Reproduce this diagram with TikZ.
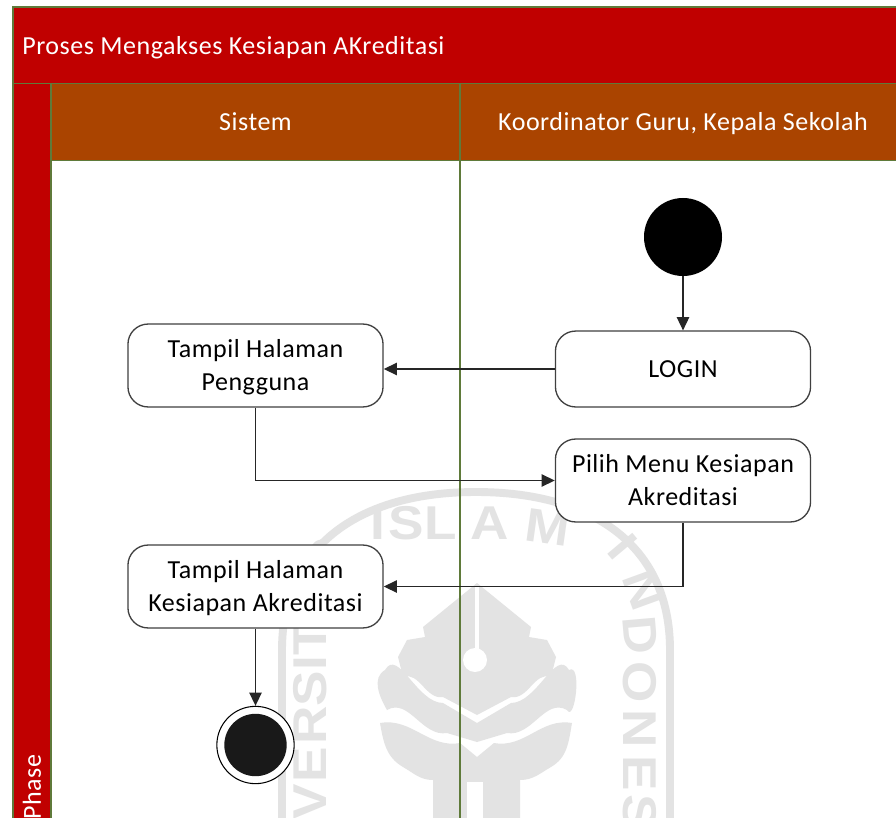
\documentclass[tikz,border=0pt]{standalone}
\usepackage{fontspec}
\setmainfont[LetterSpace=2]{Carlito}
\newfontfamily\markfont[BoldFont={Liberation Sans Bold},FakeStretch=1.12]{Liberation Sans}
\usepackage{xcolor}
\usetikzlibrary{arrows.meta}
\definecolor{titlered}{HTML}{C00000}
\definecolor{lanebrown}{HTML}{AA4400}
\definecolor{laneline}{HTML}{5F7A3A}
\definecolor{markgray}{HTML}{E3E3E3}
\newcommand{\lowerline}{\rule{0pt}{12.6pt}}
\tikzset{
  action/.style={draw=black!75, line width=0.75pt, fill=white, rounded corners=11.5pt, align=center, minimum width=145.2pt, text=black, font=\fontsize{14.8}{18.8}\selectfont, inner sep=0pt},
  flow/.style={draw=black!85, line width=0.75pt, -{Triangle[length=7.5pt,width=7pt]}},
  lanelabel/.style={text=white, font=\fontsize{14.8}{18}\selectfont, inner sep=0pt},
  marker/.style={text=markgray, font=\markfont\bfseries\fontsize{27}{27}\selectfont, inner sep=0pt}
}

\begin{document}
\begin{tikzpicture}[x=0.02cm, y=-0.02cm]
  \useasboundingbox (0,0) rectangle (896,818);
  \fill[white] (0,0) rectangle (896,818);
  % background stamp
  \draw[markgray, line width=4.5pt] (282,822) -- (282,650) .. controls (282,545) and (360,492) .. (476,492) .. controls (592,492) and (670,545) .. (670,650) -- (670,822);
  \foreach \ltr/\xx/\yy/\rot [count=\n] in {I/378/523/0, S/406/523/0, L/441/523/0, A/490/523/0, M/548/527/-8,
    I/623/547/-50, N/643/590/-70, D/640/635/-85, O/640/682/-90, N/640/729/-90, E/640/773/-90, S/640/812/-90,
    S/325/558/65, A/314/600/75, T/310/639/90, I/310/663/90, S/310/689/90, R/310/725/90, E/310/765/90, V/310/802/90}
    \node[marker, rotate=\rot] (mark\n) at (\xx,\yy) {\ltr};
  \fill[markgray] (477,583) -- (423,627) -- (425,637) -- (407,640) -- (398,657) -- (403,677) to[out=20,in=190] (443,697) -- (477,715)
    -- (511,697) to[out=-10,in=160] (551,677) -- (556,657) -- (547,640) -- (529,637) -- (531,627) -- cycle;
  \draw[white, line width=2pt] (477,587) -- (477,650);
  \fill[white] (475,660) circle (12);
  \fill[markgray] (385,670) to[out=60,in=180] (443,703) -- (477,723) -- (511,703) to[out=0,in=120] (569,670) to[out=30,in=-60] (567,710) to[out=150,in=-10] (507,733) -- (477,742) -- (447,733) to[out=190,in=30] (387,710) to[out=120,in=-150] cycle;
  \fill[markgray] (380,723) to[out=10,in=190] (460,743) -- (477,757) -- (494,743) to[out=-10,in=170] (572,723) to[out=-100,in=30] (551,767) to[out=-150,in=0] (520,780) -- (520,822) -- (433,822) -- (433,780) to[out=180,in=-30] (403,767) to[out=150,in=-80] cycle;
  \fill[white] (467,782) rectangle (483,822);
  % swimlane frame
  \fill[titlered] (13,7) rectangle (900,83);
  \fill[lanebrown] (51,84) rectangle (900,160);
  \fill[titlered] (13,84) rectangle (51,822);
  \draw[laneline, line width=0.75pt] (900,7) -- (13,7) -- (13,822);
  \draw[laneline, line width=0.75pt] (13,83.5) -- (900,83.5);
  \draw[laneline, line width=0.75pt] (51,84) -- (51,822);
  \draw[laneline, line width=0.75pt] (51,160.5) -- (900,160.5);
  \draw[laneline, line width=0.75pt] (460,84) -- (460,822);
  \node[lanelabel, anchor=west] (title) at (22,48) {Proses Mengakses Kesiapan AKreditasi};
  \node[lanelabel] (sistem) at (255.5,122) {Sistem};
  \node[lanelabel] (koordinator) at (683,123.5) {Koordinator Guru, Kepala Sekolah};
  \node[lanelabel, rotate=90, anchor=west] (phase) at (32,820) {Phase};
  % activities
  \node[circle, fill=black, minimum size=44.4pt, inner sep=0pt] (start) at (683,237) {};
  \node[action, minimum height=47.2pt] (pengguna) at (255.5,365.5) {\lowerline Tampil Halaman\\Pengguna};
  \node[action, minimum height=43.2pt] (login) at (683,369) {LOGIN};
  \node[action, minimum height=47.2pt] (menu) at (683,480.5) {Pilih Menu Kesiapan\\Akreditasi};
  \node[action, minimum height=47.2pt] (halaman) at (255.5,586.5) {\lowerline Tampil Halaman\\Kesiapan Akreditasi};
  \node[circle, draw=black, semithick, fill=white, minimum size=44pt, inner sep=0pt] (finish) at (255.5,745) {};
  \node[circle, fill=black!90, minimum size=35.5pt, inner sep=0pt] (finishdot) at (255.5,745) {};
  % flows
  \draw[flow] (start) -- (login);
  \draw[flow] (login) -- (pengguna.east |- login);
  \draw[flow] (pengguna) |- (menu);
  \draw[flow] (menu) |- (halaman);
  \draw[flow] (halaman) -- (finish);
\end{tikzpicture}
\end{document}
